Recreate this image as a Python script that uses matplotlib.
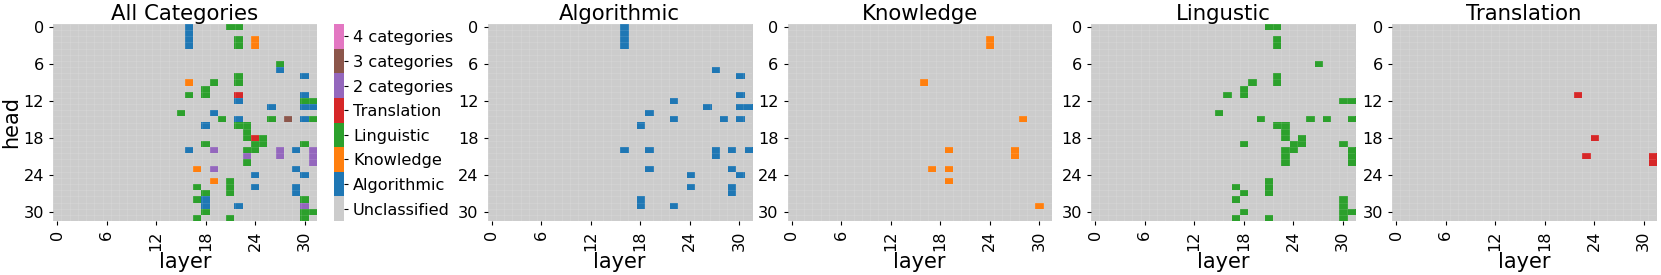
import numpy as np
import matplotlib
matplotlib.use('Agg')
import matplotlib.pyplot as plt
from matplotlib.colors import ListedColormap

n_layers = 32
n_heads = 32

# (layer, head) cells for each category
algorithmic = [(16, 0), (16, 1), (16, 2), (16, 3), (27, 7), (30, 8), (30, 11), (22, 12),
               (26, 13), (30, 13), (31, 13), (19, 14), (22, 15), (28, 15), (30, 15), (18, 16),
               (16, 20), (19, 20), (27, 20), (27, 21), (29, 20), (31, 20), (19, 23), (29, 23),
               (24, 24), (30, 24), (24, 26), (29, 26), (29, 27), (18, 28), (18, 29), (22, 29)]
knowledge = [(24, 2), (24, 3), (16, 9), (28, 15), (19, 20), (27, 20), (27, 21), (17, 23),
             (19, 23), (19, 25), (30, 29)]
linguistic = [(21, 0), (22, 0), (22, 2), (22, 3), (27, 6), (22, 8), (22, 9), (19, 9),
              (18, 10), (18, 11), (16, 11), (30, 12), (31, 12), (15, 14), (20, 15), (26, 15),
              (28, 15), (31, 15), (22, 16), (23, 16), (23, 17), (23, 18), (25, 18), (24, 19),
              (25, 19), (18, 19), (30, 19), (24, 20), (23, 20), (23, 21), (23, 22), (31, 20),
              (31, 21), (31, 22), (21, 25), (21, 26), (21, 27), (17, 26), (18, 27), (17, 28),
              (30, 28), (30, 29), (30, 30), (30, 31), (31, 30), (18, 30), (17, 31), (21, 31)]
translation = [(22, 11), (24, 18), (23, 21), (31, 21), (31, 22)]

categories = ['Algorithmic', 'Knowledge', 'Lingustic', 'Translation']
cat_cells = [algorithmic, knowledge, linguistic, translation]
cbar_labels = ['Unclassified', 'Algorithmic', 'Knowledge', 'Linguistic', 'Translation',
               '2 categories', '3 categories', '4 categories']
colors = ['#cccccc', '#1f77b4', '#ff7f0e', '#2ca02c', '#d62728', '#9467bd', '#8c564b', '#e377c2']

# build matrices (rows = head, cols = layer)
masks = []
for cells in cat_cells:
    m = np.zeros((n_heads, n_layers), dtype=int)
    for l, h in cells:
        m[h, l] = 1
    masks.append(m)
count = sum(masks)
combined = np.zeros((n_heads, n_layers))
for i, m in enumerate(masks):
    combined[(m == 1) & (count == 1)] = i + 1
combined[count == 2] = 5
combined[count == 3] = 6
combined[count == 4] = 7

cmap = ListedColormap(colors)
W, H = 1661, 275
fig = plt.figure(figsize=(W / 100, H / 100), dpi=100)

ax_left = [53, 487.5, 787.5, 1091, 1392]
ax_w = 264
ax_top = 24
ax_h = 197
tick_fs = 11.6


def make_ax(x):
    return fig.add_axes([x / W, (H - ax_top - ax_h) / H, ax_w / W, ax_h / H])


def draw(ax, data, title):
    im = ax.imshow(data, cmap=cmap, vmin=-0.5, vmax=7.5, aspect='auto', interpolation='nearest')
    for k in range(n_layers + 1):
        ax.axvline(k - 0.5, color='white', lw=0.4, alpha=0.18)
    for k in range(n_heads + 1):
        ax.axhline(k - 0.5, color='white', lw=0.4, alpha=0.18)
    ax.set_xticks(range(0, 32, 6))
    ax.set_yticks(range(0, 32, 6))
    ax.tick_params(axis='x', labelrotation=90, labelsize=tick_fs, length=3)
    ax.tick_params(axis='y', labelsize=tick_fs, length=3)
    for s in ax.spines.values():
        s.set_visible(False)
    ax.set_xlabel('layer', fontsize=15, labelpad=1)
    ax.set_title(title, fontsize=15.3, pad=3)
    return im


ax0 = make_ax(ax_left[0])
im = draw(ax0, combined, 'All Categories')
ax0.set_ylabel('head', fontsize=15, labelpad=2)

cax = fig.add_axes([334 / W, (H - ax_top - ax_h) / H, 10 / W, ax_h / H])
cb = fig.colorbar(im, cax=cax, ticks=range(8))
cb.ax.set_yticklabels(cbar_labels)
cb.ax.tick_params(labelsize=tick_fs, length=3)
cb.outline.set_visible(False)

for i, name in enumerate(categories):
    ax = make_ax(ax_left[i + 1])
    draw(ax, masks[i] * (i + 1), name)

fig.savefig('out.png', dpi=100)
